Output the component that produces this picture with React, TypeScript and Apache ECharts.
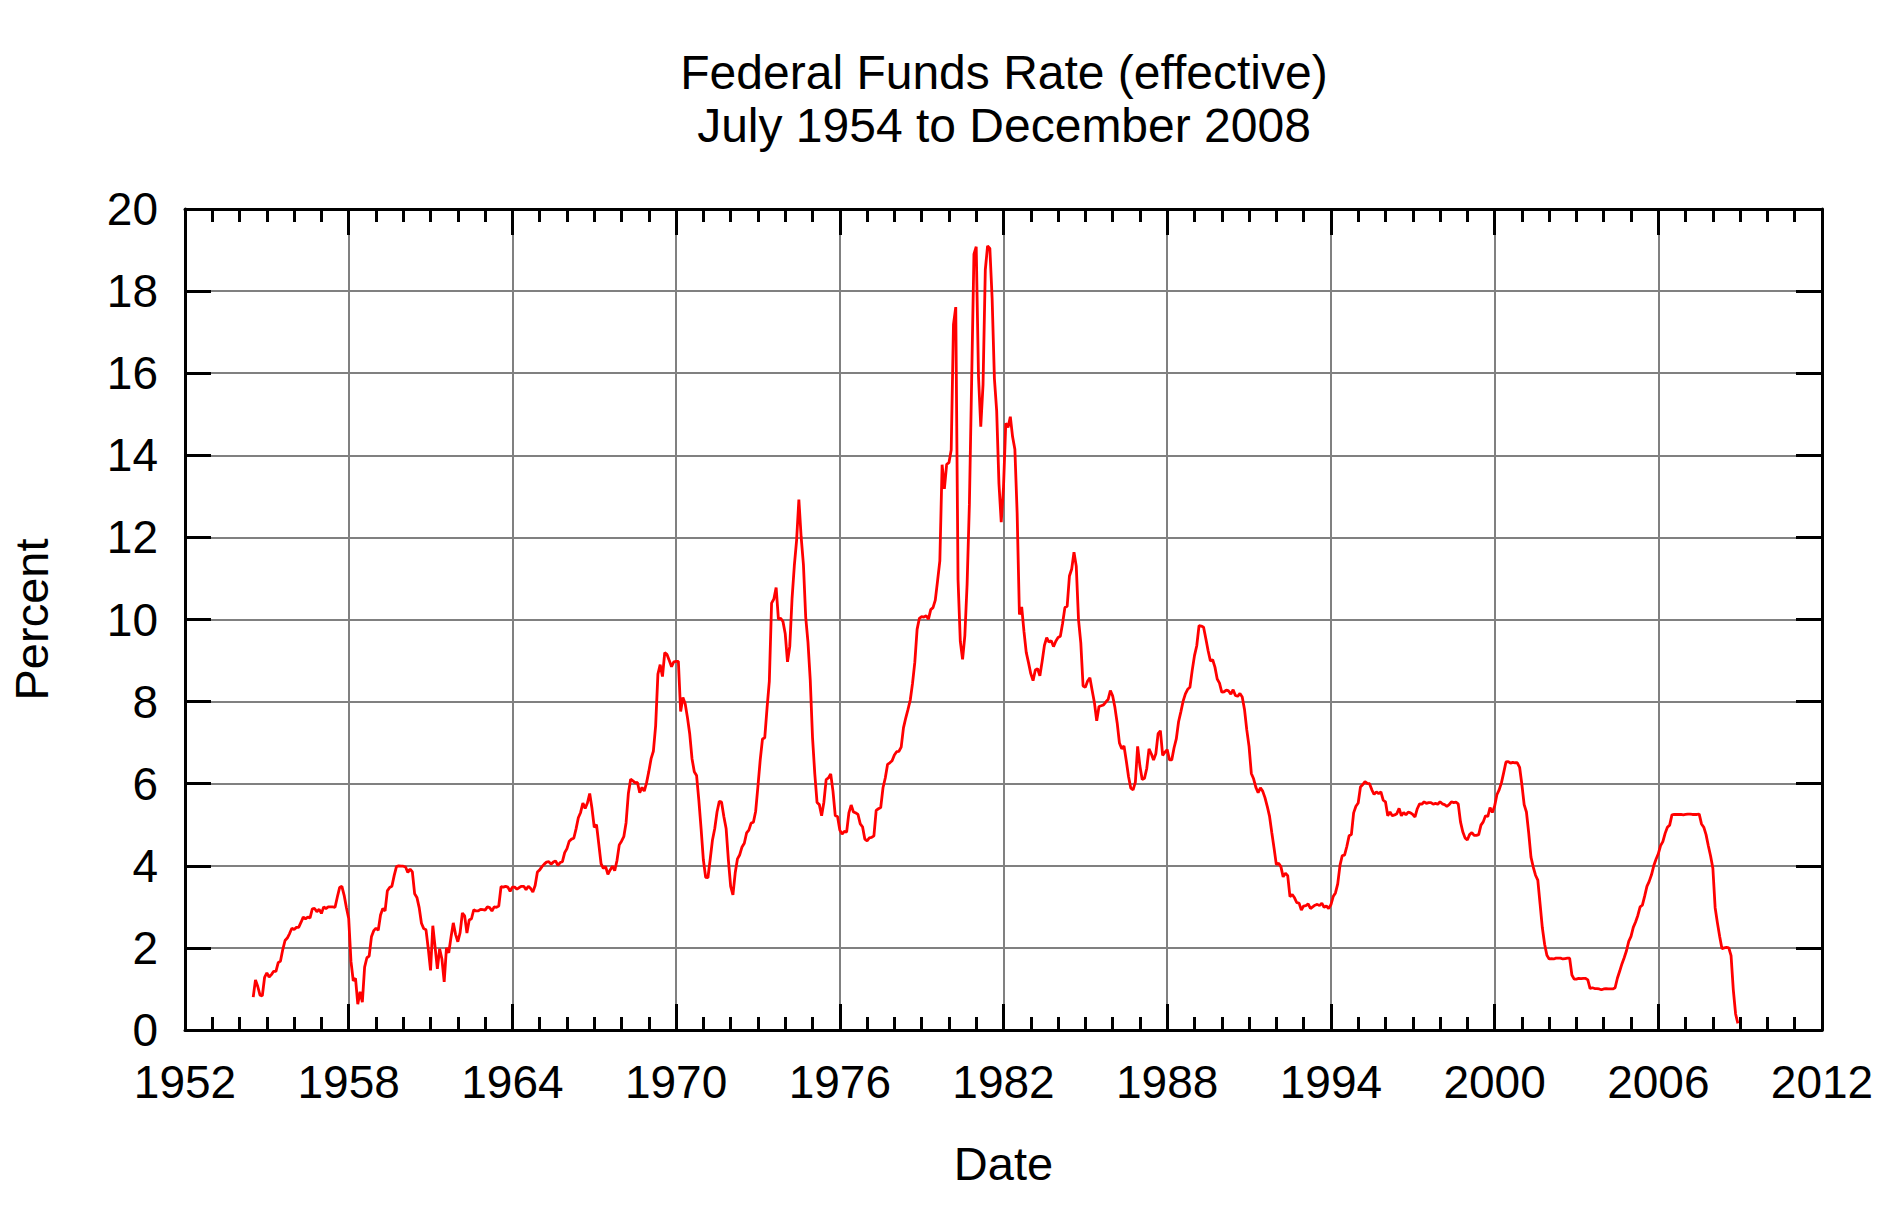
import React, { useEffect, useRef } from "react";
import * as echarts from "echarts";

// ---- Data (monthly effective federal funds rate, percent) ----
const startYear = 1954;
const startMonth = 7; // July 1954

const rates1950s = [
  0.80, 1.22, 1.06, 0.85, 0.83, 1.28,
  1.39, 1.29, 1.35, 1.43, 1.43, 1.64, 1.68, 1.96, 2.18, 2.24, 2.35, 2.48,
  2.45, 2.50, 2.50, 2.62, 2.75, 2.71, 2.75, 2.73, 2.95, 2.96, 2.88, 2.94,
  2.84, 3.00, 2.96, 3.00, 3.00, 3.00, 2.99, 3.24, 3.47, 3.50, 3.28, 2.98,
  2.72, 1.67, 1.20, 1.26, 0.63, 0.93, 0.68, 1.53, 1.76, 1.80, 2.27, 2.42,
  2.48, 2.43, 2.80, 2.96, 2.90, 3.39, 3.47, 3.50, 3.76, 3.98, 4.00, 3.99,
];
const rates1960s = [
  3.99, 3.97, 3.84, 3.92, 3.85, 3.32, 3.23, 2.98, 2.60, 2.47, 2.44, 1.98,
  1.45, 2.54, 2.02, 1.49, 1.98, 1.73, 1.17, 2.00, 1.88, 2.26, 2.61, 2.33,
  2.15, 2.37, 2.85, 2.78, 2.36, 2.68, 2.71, 2.93, 2.90, 2.90, 2.94, 2.93,
  2.92, 3.00, 2.98, 2.90, 3.00, 2.99, 3.02, 3.49, 3.48, 3.50, 3.48, 3.38,
  3.48, 3.48, 3.43, 3.47, 3.50, 3.50, 3.42, 3.50, 3.45, 3.36, 3.52, 3.85,
  3.90, 3.98, 4.04, 4.09, 4.10, 4.04, 4.09, 4.12, 4.01, 4.08, 4.10, 4.32,
  4.42, 4.60, 4.65, 4.67, 4.90, 5.17, 5.30, 5.53, 5.40, 5.53, 5.76, 5.40,
  4.94, 5.00, 4.53, 4.05, 3.94, 3.98, 3.79, 3.90, 3.99, 3.88, 4.13, 4.51,
  4.60, 4.71, 5.05, 5.76, 6.11, 6.07, 6.02, 6.03, 5.78, 5.91, 5.82, 6.02,
  6.30, 6.61, 6.79, 7.41, 8.67, 8.90, 8.61, 9.19, 9.15, 9.00, 8.85, 8.97,
];
const rates1970s = [
  8.98, 8.98, 7.76, 8.10, 7.95, 7.61, 7.21, 6.61, 6.29, 6.20, 5.60, 4.90,
  4.14, 3.72, 3.71, 4.16, 4.63, 4.91, 5.31, 5.57, 5.55, 5.20, 4.91, 4.14,
  3.50, 3.29, 3.83, 4.17, 4.27, 4.46, 4.55, 4.80, 4.87, 5.04, 5.06, 5.33,
  5.94, 6.58, 7.09, 7.12, 7.84, 8.49, 10.40, 10.50, 10.78, 10.01, 10.03, 9.95,
  9.65, 8.97, 9.35, 10.51, 11.31, 11.93, 12.92, 12.01, 11.34, 10.06, 9.45, 8.53,
  7.13, 6.24, 5.54, 5.49, 5.22, 5.55, 6.10, 6.14, 6.24, 5.82, 5.22, 5.20,
  4.87, 4.77, 4.84, 4.82, 5.29, 5.48, 5.31, 5.29, 5.25, 5.02, 4.95, 4.65,
  4.61, 4.68, 4.69, 4.73, 5.35, 5.39, 5.42, 5.90, 6.14, 6.47, 6.51, 6.56,
  6.70, 6.78, 6.79, 6.89, 7.36, 7.60, 7.81, 8.04, 8.45, 8.96, 9.76, 10.03,
  10.07, 10.06, 10.09, 10.01, 10.24, 10.29, 10.47, 10.94, 11.43, 13.77, 13.18, 13.78,
];
const rates1980s = [
  13.82, 14.13, 17.19, 17.61, 10.98, 9.47, 9.03, 9.61, 10.87, 12.81, 15.85, 18.90,
  19.08, 15.93, 14.70, 15.72, 18.52, 19.10, 19.04, 17.82, 15.87, 15.08, 13.31, 12.37,
  13.22, 14.78, 14.68, 14.94, 14.45, 14.15, 12.59, 10.12, 10.31, 9.71, 9.20, 8.95,
  8.68, 8.51, 8.77, 8.80, 8.63, 8.98, 9.37, 9.56, 9.45, 9.48, 9.34, 9.47,
  9.56, 9.59, 9.91, 10.29, 10.32, 11.06, 11.23, 11.64, 11.30, 9.99, 9.43, 8.38,
  8.35, 8.50, 8.58, 8.27, 7.97, 7.53, 7.88, 7.90, 7.92, 7.99, 8.05, 8.27,
  8.14, 7.86, 7.48, 6.99, 6.85, 6.92, 6.56, 6.17, 5.89, 5.85, 6.04, 6.91,
  6.43, 6.10, 6.13, 6.37, 6.85, 6.73, 6.58, 6.73, 7.22, 7.29, 6.69, 6.77,
  6.83, 6.58, 6.58, 6.87, 7.09, 7.51, 7.75, 8.01, 8.19, 8.30, 8.35, 8.76,
  9.12, 9.36, 9.85, 9.84, 9.81, 9.53, 9.24, 8.99, 9.02, 8.84, 8.55, 8.45,
];
const rates1990s = [
  8.23, 8.24, 8.28, 8.26, 8.18, 8.29, 8.15, 8.13, 8.20, 8.11, 7.81, 7.31,
  6.91, 6.25, 6.12, 5.91, 5.78, 5.90, 5.82, 5.66, 5.45, 5.21, 4.81, 4.43,
  4.03, 4.06, 3.98, 3.73, 3.82, 3.76, 3.25, 3.30, 3.22, 3.10, 3.09, 2.92,
  3.02, 3.03, 3.07, 2.96, 3.00, 3.04, 3.06, 3.03, 3.09, 2.99, 3.02, 2.96,
  3.05, 3.25, 3.34, 3.56, 4.01, 4.25, 4.26, 4.47, 4.73, 4.76, 5.29, 5.45,
  5.53, 5.92, 5.98, 6.05, 6.01, 6.00, 5.85, 5.74, 5.80, 5.76, 5.80, 5.60,
  5.56, 5.22, 5.31, 5.22, 5.24, 5.27, 5.40, 5.22, 5.30, 5.24, 5.31, 5.29,
  5.25, 5.19, 5.39, 5.51, 5.50, 5.56, 5.52, 5.54, 5.54, 5.50, 5.52, 5.50,
  5.56, 5.51, 5.49, 5.45, 5.49, 5.56, 5.54, 5.55, 5.51, 5.07, 4.83, 4.68,
  4.63, 4.76, 4.81, 4.74, 4.74, 4.76, 4.99, 5.07, 5.22, 5.20, 5.42, 5.30,
];
const rates2000s = [
  5.45, 5.73, 5.85, 6.02, 6.27, 6.53, 6.54, 6.50, 6.52, 6.51, 6.51, 6.40,
  5.98, 5.49, 5.31, 4.80, 4.21, 3.97, 3.77, 3.65, 3.07, 2.49, 2.09, 1.82,
  1.73, 1.74, 1.73, 1.75, 1.75, 1.75, 1.73, 1.74, 1.75, 1.75, 1.34, 1.24,
  1.24, 1.26, 1.25, 1.26, 1.26, 1.22, 1.01, 1.03, 1.01, 1.01, 1.00, 0.98,
  1.00, 1.01, 1.00, 1.00, 1.00, 1.03, 1.26, 1.43, 1.61, 1.76, 1.93, 2.16,
  2.28, 2.50, 2.63, 2.79, 3.00, 3.04, 3.26, 3.50, 3.62, 3.78, 4.00, 4.16,
  4.29, 4.49, 4.59, 4.79, 4.94, 4.99, 5.24, 5.25, 5.25, 5.25, 5.25, 5.24,
  5.25, 5.26, 5.26, 5.25, 5.25, 5.25, 5.26, 5.02, 4.94, 4.76, 4.49, 4.24,
  3.94, 2.98, 2.61, 2.28, 1.98, 2.00, 2.01, 2.00, 1.81, 0.97, 0.39, 0.16,
];

const titleLines = ["Federal Funds Rate (effective)", "July 1954 to December 2008"];
const xAxisTitle = "Date";
const yAxisTitle = "Percent";
const xMin = 1952, xMax = 2012, xStep = 6;
const yMin = 0, yMax = 20, yStep = 2;

const FONT = "'Liberation Sans', Arial, Helvetica, sans-serif";

export default function App() {
  const ref = useRef<HTMLDivElement>(null);

  useEffect(() => {
    if (!ref.current) return;
    const chart = echarts.init(ref.current, null, { renderer: "svg" });

    const allRates = [
      ...rates1950s, ...rates1960s, ...rates1970s,
      ...rates1980s, ...rates1990s, ...rates2000s,
    ];
    const seriesData = allRates.map((v, i) => [
      startYear + (startMonth - 1 + i) / 12,
      v,
    ]);

    const tickStyle = { color: "#000", width: 3 };
    const axisLineStyle = { show: true, onZero: false, lineStyle: { color: "#000", width: 3 } };
    const gridStyle = { color: "#808080", width: 2 };

    const option: any = {
      animation: false,
      backgroundColor: "#fff",
      title: {
        text: titleLines.join("\n"),
        left: 1004,
        top: 46,
        textAlign: "center",
        padding: 0,
        textStyle: {
          fontFamily: FONT,
          fontSize: 48,
          fontWeight: "normal",
          color: "#000",
          lineHeight: 53,
        },
      },
      grid: { left: 184, top: 209, width: 1638, height: 821, containLabel: false },
      xAxis: [
        {
          type: "value",
          position: "bottom",
          min: xMin,
          max: xMax,
          interval: xStep,
          name: xAxisTitle,
          nameLocation: "middle",
          nameGap: 110,
          nameTextStyle: { fontFamily: FONT, fontSize: 47, color: "#000" },
          axisLine: axisLineStyle,
          axisTick: { show: true, inside: true, length: 26, lineStyle: tickStyle },
          minorTick: { show: true, splitNumber: 6, length: 13, lineStyle: tickStyle },
          splitLine: { show: true, lineStyle: gridStyle },
          axisLabel: {
            show: true,
            margin: 29,
            fontFamily: FONT,
            fontSize: 46,
            color: "#000",
            formatter: (v: number) => String(v),
          },
        },
        {
          type: "value",
          position: "top",
          min: xMin,
          max: xMax,
          interval: xStep,
          axisLine: axisLineStyle,
          axisTick: { show: true, inside: true, length: 26, lineStyle: tickStyle },
          minorTick: { show: true, splitNumber: 6, length: 13, lineStyle: tickStyle },
          splitLine: { show: false },
          axisLabel: { show: false },
        },
      ],
      yAxis: [
        {
          type: "value",
          position: "left",
          min: yMin,
          max: yMax,
          interval: yStep,
          name: yAxisTitle,
          nameLocation: "middle",
          nameGap: 130,
          nameTextStyle: { fontFamily: FONT, fontSize: 47, color: "#000" },
          axisLine: axisLineStyle,
          axisTick: { show: true, inside: true, length: 26, lineStyle: tickStyle },
          splitLine: { show: true, lineStyle: gridStyle },
          axisLabel: {
            show: true,
            margin: 27,
            fontFamily: FONT,
            fontSize: 46,
            color: "#000",
            formatter: (v: number) => String(v),
          },
        },
        {
          type: "value",
          position: "right",
          min: yMin,
          max: yMax,
          interval: yStep,
          axisLine: axisLineStyle,
          axisTick: { show: true, inside: true, length: 26, lineStyle: tickStyle },
          splitLine: { show: false },
          axisLabel: { show: false },
        },
      ],
      series: [
        {
          type: "line",
          xAxisIndex: 0,
          yAxisIndex: 0,
          data: seriesData,
          showSymbol: false,
          symbol: "none",
          lineStyle: { color: "#ff0000", width: 2.8 },
          z: 5,
        },
      ],
    };

    chart.setOption(option);
    return () => chart.dispose();
  }, []);

  return (
    <div
      ref={ref}
      style={{
        position: "fixed",
        left: 0,
        top: 0,
        width: 1886,
        height: 1226,
        background: "#fff",
      }}
    />
  );
}
